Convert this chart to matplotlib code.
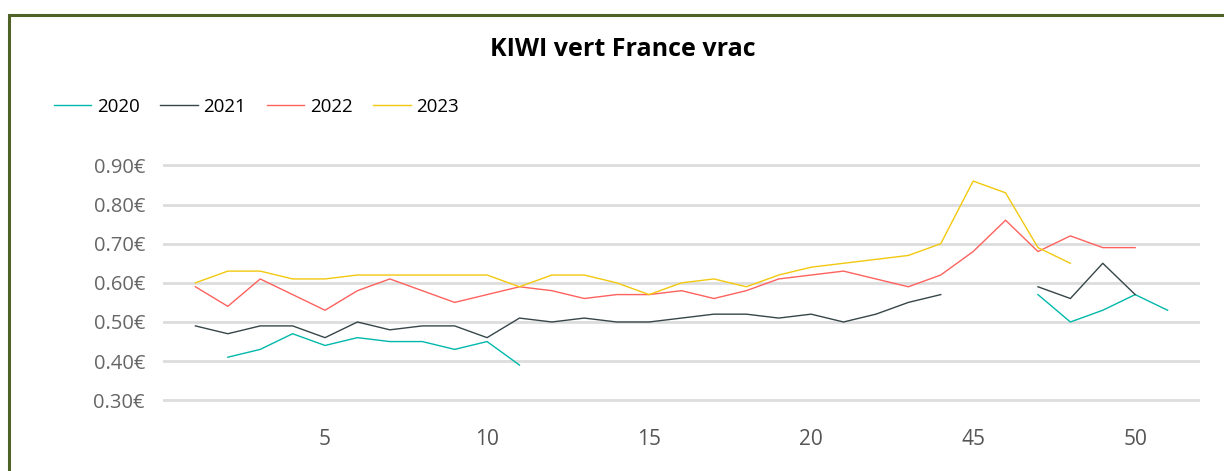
import numpy as np
import matplotlib
matplotlib.use("Agg")
import matplotlib.pyplot as plt
from matplotlib.patches import Rectangle

# weekly categories (gap between week 22 and 43)
weeks = list(range(1, 21)) + [21, 22, 43, 44] + list(range(45, 53))
shown_weeks = [5, 10, 15, 20, 45, 50]
nan = np.nan

y2020 = [nan, 0.41, 0.43, 0.47, 0.44, 0.46, 0.45, 0.45, 0.43, 0.45, 0.39,
         nan, nan, nan, nan, nan, nan, nan, nan, nan,
         nan, nan, nan, nan,
         nan, nan, 0.57, 0.50, 0.53, 0.57, 0.53, nan]
y2021 = [0.49, 0.47, 0.49, 0.49, 0.46, 0.50, 0.48, 0.49, 0.49, 0.46, 0.51,
         0.50, 0.51, 0.50, 0.50, 0.51, 0.52, 0.52, 0.51, 0.52,
         0.50, 0.52, 0.55, 0.57,
         nan, nan, 0.59, 0.56, 0.65, 0.57, nan, nan]
y2022 = [0.59, 0.54, 0.61, 0.57, 0.53, 0.58, 0.61, 0.58, 0.55, 0.57, 0.59,
         0.58, 0.56, 0.57, 0.57, 0.58, 0.56, 0.58, 0.61, 0.62,
         0.63, 0.61, 0.59, 0.62,
         0.68, 0.76, 0.68, 0.72, 0.69, 0.69, nan, nan]
y2023 = [0.60, 0.63, 0.63, 0.61, 0.61, 0.62, 0.62, 0.62, 0.62, 0.62, 0.59,
         0.62, 0.62, 0.60, 0.57, 0.60, 0.61, 0.59, 0.62, 0.64,
         0.65, 0.66, 0.67, 0.70,
         0.86, 0.83, 0.69, 0.65, nan, nan, nan, nan]

series = {"2020": y2020, "2021": y2021, "2022": y2022, "2023": y2023}
colors = {"2020": "#01B8AA", "2021": "#374649", "2022": "#FD625E", "2023": "#F2C80F"}

plt.rcParams['font.family'] = ['Open Sans', 'DejaVu Sans']

W, H = 1224, 471
fig = plt.figure(figsize=(W / 100, H / 100), dpi=100)

# green frame of the visual (cut off on the right and bottom)
fig.patches.append(Rectangle((8.5 / W, -0.05), 1.2, 1 - 14.5 / H + 0.05,
                             transform=fig.transFigure, fill=False,
                             edgecolor="#4F6228", linewidth=2.2))

ymin, ymax = 0.295, 0.905
px_per = 387 / 0.6
top_px = 166.7 - (ymax - 0.90) * px_per
bot_px = 399 + (0.30 - ymin) * px_per
ax = fig.add_axes([163 / W, (H - bot_px) / H, (1200 - 163) / W, (bot_px - top_px) / H])

x = np.arange(len(weeks))
for name, vals in series.items():
    ax.plot(x, vals, color=colors[name], linewidth=0.85, alpha=0.5, label=name)

ax.set_xlim(-1, len(weeks) - 1)
ax.set_ylim(ymin, ymax)
ax.set_yticks(np.arange(0.3, 0.91, 0.1))
ax.set_yticklabels([f"{v:.2f}€" for v in np.arange(0.3, 0.91, 0.1)])
ticks = [weeks.index(w) for w in shown_weeks]
ax.set_xticks(ticks)
ax.set_xticklabels([str(w) for w in shown_weeks])

ax.grid(axis="y", color="#DDDDDD", linewidth=2)
ax.set_axisbelow(True)
for s in ax.spines.values():
    s.set_visible(False)
ax.tick_params(axis="y", length=0, pad=13, labelsize=14.5, labelcolor="#666666")
ax.tick_params(axis="x", length=0, pad=19, labelsize=15, labelcolor="#555555")

fig.text(623 / W, 1 - 50 / H, "KIWI vert France vrac", ha="center", va="center",
         fontsize=18, fontweight="bold", color="black")

handles, labels = ax.get_legend_handles_labels()
for h in handles:
    h.set_alpha(1)
    h.set_linewidth(1)
fig.legend(handles, labels, loc="center left", bbox_to_anchor=(37 / W, 1 - 107 / H),
           ncol=4, frameon=False, fontsize=13.5, handlelength=2.0, handletextpad=0.3,
           columnspacing=1.1)

fig.savefig("out.png", dpi=100)
